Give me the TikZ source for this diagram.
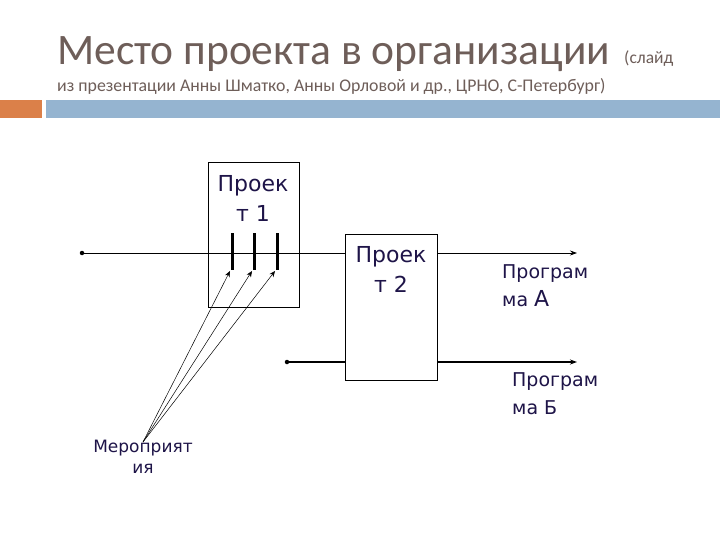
\documentclass[tikz,border=0pt]{standalone}
\usepackage{fontspec}
\setmainfont{DejaVu Sans}
\newfontfamily\titlefont{Carlito}
\usetikzlibrary{arrows.meta}
\definecolor{titlecol}{HTML}{6E5E59}
\definecolor{txtcol}{HTML}{1E1448}
\definecolor{orangebar}{HTML}{DB8049}
\definecolor{bluebar}{HTML}{95B4D0}
\tikzset{
  projbox/.style={draw=black, line width=0.8pt, fill=white},
  lbl/.style={text=txtcol, align=left, inner sep=0pt},
  projlbl/.style={lbl, align=center, font=\fontsize{22}{30}\selectfont},
  proglbl/.style={lbl, font=\fontsize{19}{28}\selectfont},
  merlbl/.style={lbl, align=center, font=\fontsize{17}{21}\selectfont},
  flow/.style={line width=0.8pt},
  dot/.style={circle, fill=black, inner sep=0pt, minimum size=4.5pt},
  tipend/.style={-{Stealth[length=7pt,width=5pt]}},
  bar/.style={line width=3pt},
  feed/.style={line width=0.5pt, -{Stealth[length=6pt,width=5pt]}}
}
\begin{document}
\begin{tikzpicture}[x=1pt,y=-1pt]
\useasboundingbox (0,0) rectangle (720,540);
\fill[white] (0,0) rectangle (720,540);
% header
\node[anchor=base west, inner sep=0pt, text=titlecol, font=\titlefont\fontsize{43.5}{43.5}\selectfont] (title) at (57,65) {Место проекта в организации};
\node[anchor=base west, inner sep=0pt, text=titlecol, font=\titlefont\fontsize{17.5}{17.5}\selectfont] (slide) at (624,64) {(слайд};
\node[anchor=base west, inner sep=0pt, text=titlecol, font=\titlefont\fontsize{17.8}{17.8}\selectfont] (sub) at (57,92) {из презентации Анны Шматко, Анны Орловой и др., ЦРНО, С-Петербург)};
\fill[orangebar] (0,100) rectangle (42,118);
\fill[bluebar] (46,100) rectangle (720,118);
% coordinates
\coordinate (s1) at (82,253);
\coordinate (s2) at (287,362);
\coordinate (eA) at (577,253);
\coordinate (eB) at (577,362);
% project 1 box
\node[projbox, minimum width=91pt, minimum height=145pt, anchor=north west] (p1) at (208,162) {};
\draw[flow] (s1) -- (345,253);
\node[dot] (d1) at (s1) {};
\node[projlbl] (p1t) at (253,198) {Проек\\т 1};
% bars
\coordinate (b1t) at (232,233); \coordinate (b1b) at (232,270);
\coordinate (b2t) at (254,233); \coordinate (b2b) at (254,270);
\coordinate (b3t) at (277,233); \coordinate (b3b) at (277,270);
\draw[bar] (b1t) -- (b1b);
\draw[bar] (b2t) -- (b2b);
\draw[bar] (b3t) -- (b3b);
% project 2
\node[projbox, minimum width=92pt, minimum height=146pt, anchor=north west] (p2) at (345,234) {};
\node[projlbl] (p2t) at (391,269) {Проек\\т 2};
\draw[flow, tipend] (p2.east |- eA) -- (eA);
\draw[line width=1.3pt] (s2) -- (p2.west |- s2);
\draw[line width=1.3pt, tipend] (p2.east |- eB) -- (eB);
\node[dot] (d2) at (s2) {};
% labels
\node[proglbl, anchor=west] (pa) at (502,286) {Програм\\ма {\fontsize{22}{28}\selectfont А}};
\node[proglbl, anchor=west] (pb) at (512,394) {Програм\\ма Б};
\node[merlbl] (mer) at (143,457) {Мероприят\\ия};
\coordinate (m) at (143,442);
\draw[feed] (m) -- (230,271);
\draw[feed] (m) -- (252,271);
\draw[feed] (m) -- (275,271);
\end{tikzpicture}
\end{document}
